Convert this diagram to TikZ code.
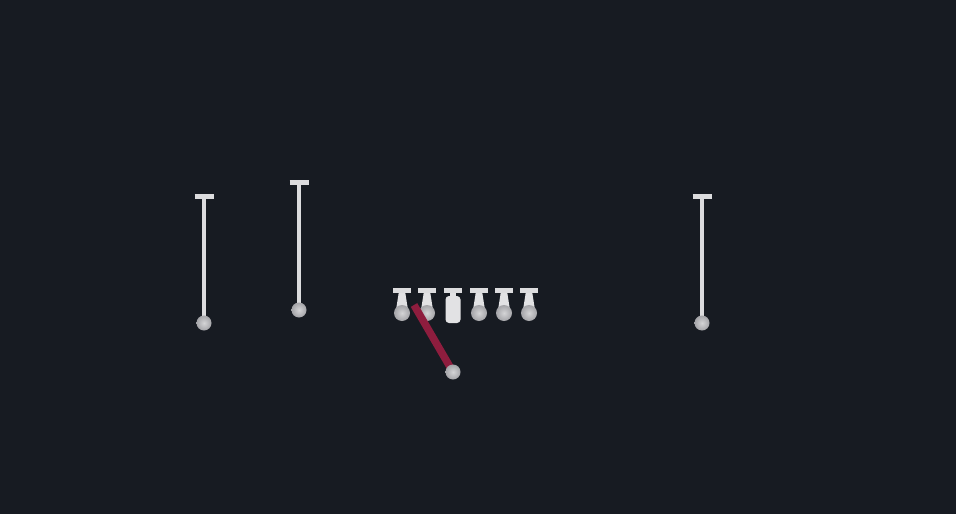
\documentclass[tikz,border=0pt]{standalone}
\begin{document}
\begin{tikzpicture}[x=1pt,y=-1pt,
  bar/.style={draw=barcol,line width=4.5pt},
  cross/.style={draw=barcol,line width=5pt},
  dot/.style={circle,inner sep=0pt,minimum size=15pt,inner color=dotin,outer color=dotout,draw=none},
  ldot/.style={dot,minimum size=16pt},
  stem/.style={fill=linecol},
  center/.style={rectangle,rounded corners=3.5pt,inner sep=0pt,minimum width=15pt,minimum height=27pt,fill=linecol},
  route/.style={draw=routecol,line width=7.5pt}]
\definecolor{bg}{HTML}{171B22}
\definecolor{barcol}{HTML}{DCDCDE}
\definecolor{linecol}{HTML}{E2E2E4}
\definecolor{dotin}{HTML}{D4D4D6}
\definecolor{dotout}{HTML}{A4A4A8}
\definecolor{routecol}{HTML}{8E1D3E}
\fill[bg] (0,0) rectangle (956,514);
\useasboundingbox (0,0) rectangle (956,514);

% receivers
\foreach \n/\x/\yt/\yb in {r1/204/196/323, r2/299/182/310, r3/702/196/323}{
  \coordinate (\n t) at (\x,\yt);
  \draw[bar] (\n t) -- (\x,\yb);
  \draw[cross] (\x-9.5,\yt) -- (\x+9.5,\yt);
  \node[dot] (\n) at (\x,\yb) {};
}

% linemen
\foreach \n/\x in {l1/402, l2/427, l4/479, l5/504, l6/529}{
  \coordinate (\n t) at (\x,290.5);
  \fill[stem] (\x-3,291) -- (\x+3,291) -- (\x+6,310) -- (\x-6,310) -- cycle;
  \draw[cross] (\x-9,290.5) -- (\x+9,290.5);
  \node[ldot] (\n) at (\x,313) {};
}
% center
\coordinate (ct) at (453,290.5);
\node[center] (c) at (453,309.5) {};
\fill[stem] (450,291) rectangle (456,297);
\draw[cross] (444,290.5) -- (462,290.5);

% route
\coordinate (rs) at (414,305);
\coordinate (qbc) at (453,372);
\draw[route] (rs) -- (qbc);
\node[dot] (qb) at (qbc) {};
\end{tikzpicture}
\end{document}
